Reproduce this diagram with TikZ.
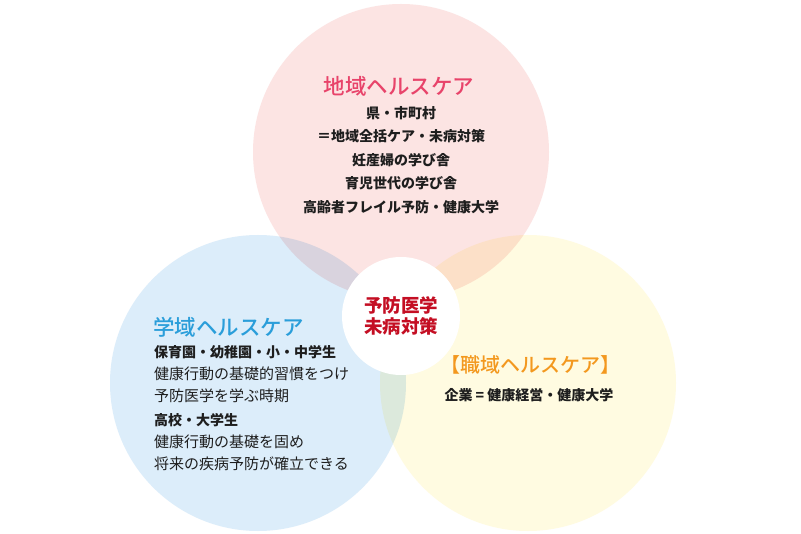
\documentclass[tikz,border=0pt]{standalone}
\usepackage{fontspec}
\setmainfont{Noto Sans CJK JP}
\newfontfamily\titlefont{Noto Sans CJK JP Medium}
\usetikzlibrary{positioning}
\definecolor{mypink}{RGB}{252,228,227}
\definecolor{myblue}{RGB}{220,237,250}
\definecolor{myyellow}{RGB}{255,251,225}
\definecolor{titlepink}{RGB}{232,67,106}
\definecolor{titleblue}{RGB}{42,158,218}
\definecolor{titleorange}{RGB}{243,152,30}
\definecolor{centerred}{RGB}{196,14,35}
\definecolor{mytext}{RGB}{30,30,30}

\begin{document}
\begin{tikzpicture}[x=1pt,y=-1pt,
  area/.style={circle, minimum size=296pt, inner sep=0pt},
  areatitle/.style={inner sep=0pt, font=\titlefont\fontsize{21.5}{24}\selectfont},
  areabody/.style={inner sep=0pt, text=mytext, font=\bfseries\fontsize{14}{23.5}\selectfont}]
  \useasboundingbox[fill=white] (0,0) rectangle (801,534);

  % circles
  \begin{scope}[blend group=multiply]
    \node[area, fill=mypink] (chiiki) at (401,152) {};
    \node[area, fill=myblue] (gakuiki) at (258,383) {};
    \node[area, fill=myyellow] (shokuiki) at (528,383) {};
  \end{scope}
  \node[circle, fill=white, minimum size=118pt, inner sep=0pt] (center) at (401,316) {};

  % center
  \node[inner sep=0pt, align=center, text=centerred,
    font=\bfseries\fontsize{18.5}{21}\selectfont] (yobou) at (center) {予防医学\\未病対策};

  % top
  \node[areatitle, text=titlepink] (chiikititle) at (399,86) {地域ヘルスケア};
  \node[areabody, align=center] (chiikibody) at (401,160)
    {県・市町村\\＝地域全括ケア・未病対策\\妊産婦の学び舎\\育児世代の学び舎\\高齢者フレイル予防・健康大学};

  % left
  \node[areatitle, text=titleblue, anchor=west] (gakuikititle) at (153,327) {学域ヘルスケア};
  \node[inner sep=0pt, align=left, anchor=north west, text=mytext,
    font=\fontsize{15}{22}\selectfont] (gakuikibody) at (154,345)
    {{\bfseries\fontsize{14}{22}\selectfont 保育園・幼稚園・小・中学生}\\
     健康行動の基礎的習慣をつけ\\
     予防医学を学ぶ時期\\[2pt]
     {\bfseries\fontsize{14}{22}\selectfont 高校・大学生}\\
     健康行動の基礎を固め\\
     将来の疾病予防が確立できる};

  % right
  \node[areatitle, text=titleorange, font=\titlefont\fontsize{20}{24}\selectfont] (shokuikititle) at (530,365) {【職域ヘルスケア】};
  \node[areabody] (shokuikibody) at (529,395) {企業 = 健康経営・健康大学};
\end{tikzpicture}
\end{document}
